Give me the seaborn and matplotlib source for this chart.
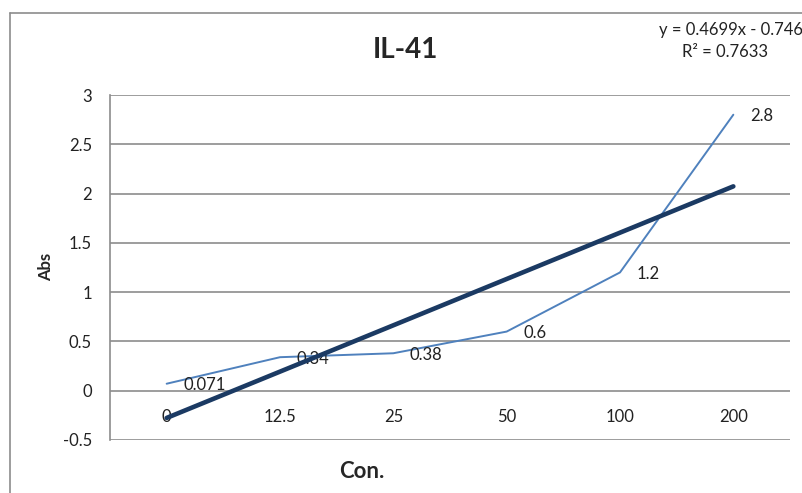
import numpy as np
import matplotlib
matplotlib.use("Agg")
import matplotlib.pyplot as plt
import seaborn as sns
from matplotlib.lines import Line2D

categories = ["0", "12.5", "25", "50", "100", "200"]
abs_values = [0.071, 0.34, 0.38, 0.6, 1.2, 2.8]
data_labels = ["0.071", "0.34", "0.38", "0.6", "1.2", "2.8"]
y_ticks = [-0.5, 0, 0.5, 1, 1.5, 2, 2.5, 3]
y_tick_labels = ["-0.5", "0", "0.5", "1", "1.5", "2", "2.5", "3"]

sns.set_theme(style="white")
plt.rcParams['font.family'] = ['Lato', 'DejaVu Sans']

fig = plt.figure(figsize=(8.02, 4.93), dpi=100)
ax = fig.add_axes([110/802, 1-440/493, 680/802, 345/493])

pos = np.arange(len(categories))
sns.lineplot(x=pos, y=abs_values, ax=ax, color="#4F81BD", linewidth=1.4, zorder=3)

# linear trendline (Excel uses x = 1..n)
xfit = pos + 1
slope, intercept = np.polyfit(xfit, abs_values, 1)
r2 = np.corrcoef(xfit, abs_values)[0, 1] ** 2
sns.lineplot(x=pos, y=slope * xfit + intercept, ax=ax, color="#1B3A63",
             linewidth=3.3, zorder=5)

ax.set_xlim(-0.5, len(categories) - 0.5)
ax.set_ylim(-0.5, 3)
ax.set_yticks(y_ticks)
ax.set_yticklabels(y_tick_labels, fontsize=12, color="#222222")
ax.set_xticks([])
ax.yaxis.grid(True, color="#8C8C8C", linewidth=1.2)
ax.set_axisbelow(True)
ax.tick_params(axis="y", length=0, pad=13)
for s in ["top", "right", "bottom"]:
    ax.spines[s].set_visible(False)
ax.spines["left"].set_color("#8C8C8C")
ax.spines["left"].set_linewidth(1.2)

# category labels under the zero line
for p, c in zip(pos, categories):
    ax.text(p, -0.265, c, ha="center", va="center", fontsize=12, color="#222222", zorder=4)

# data labels to the right of points
for p, v, t in zip(pos, abs_values, data_labels):
    ax.annotate(t, (p, v), xytext=(12, -1), textcoords="offset points",
                ha="left", va="center", fontsize=12, color="#222222", zorder=4)

ax.set_ylabel("")
fig.text(46/802, 1-267/493, "Abs", rotation=90, ha="center", va="center",
         fontsize=12, fontweight="bold")
fig.text(362/802, 1-471/493, "Con.", ha="center", va="center", fontsize=16, fontweight="bold")
fig.text(405/802, 1-50/493, "IL-41", ha="center", va="center", fontsize=20, fontweight="bold")

fig.text(803/802, 1-30/493, f"y = {slope:.4f}x - {abs(intercept):.3f}", ha="right", va="center",
         fontsize=12, color="#222222")
fig.text(725/802, 1-52/493, f"R² = {r2:.4f}", ha="center", va="center",
         fontsize=12, color="#222222")

# outer chart border (partially cropped)
fig.add_artist(Line2D([10/802, 10/802], [0, 1-13/493], transform=fig.transFigure,
                      color="#8C8C8C", linewidth=1.2))
fig.add_artist(Line2D([10/802, 1], [1-13/493, 1-13/493], transform=fig.transFigure,
                      color="#8C8C8C", linewidth=1.2))

fig.savefig("out.png", dpi=100)
